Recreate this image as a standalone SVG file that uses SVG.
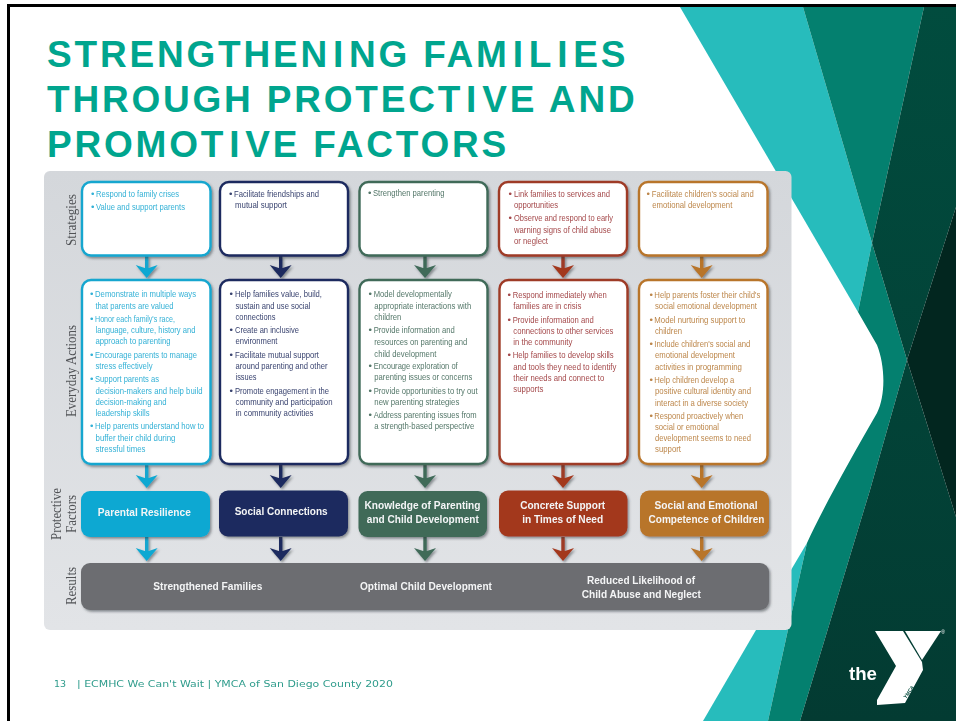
<svg xmlns="http://www.w3.org/2000/svg" width="956" height="721" viewBox="0 0 956 721">
<style>
text{font-family:"Liberation Sans",Arial,sans-serif}
.title{font-weight:700;font-size:37px;fill:#00a58e;letter-spacing:2.8px}
.foot{font-family:"DejaVu Sans",sans-serif;font-size:9.5px;fill:#2f9c8c}
.t{font-size:9.8px}
.hd{font-weight:700;font-size:11.8px;fill:#f4f5f6;text-anchor:middle}
.row{font-family:"Liberation Serif",serif;font-size:14.5px;fill:#515357;text-anchor:middle}
.box{fill:#fff;stroke-width:2.4}
.c1{fill:#33b1d6}.c2{fill:#3a4470}.c3{fill:#55786a}.c4{fill:#a4484a}.c5{fill:#bd874b}
.s1{stroke:#13a6cf}.s2{stroke:#1c2a5e}.s3{stroke:#3f6a59}.s4{stroke:#9e3a26}.s5{stroke:#b8752b}
.f1{fill:#0ea8d2}.f2{fill:#1c2a5e}.f3{fill:#3f6a59}.f4{fill:#a3391f}.f5{fill:#b8742a}
#connectors line{stroke-width:3.4}
</style>
<defs>
<filter id="sh" x="-10%" y="-10%" width="125%" height="125%"><feGaussianBlur stdDeviation="0.35" result="b"/><feDropShadow in="b" dx="1.5" dy="1.8" stdDeviation="1.2" flood-color="#33383d" flood-opacity="0.5"/></filter>
<filter id="soft" x="-5%" y="-5%" width="110%" height="110%"><feGaussianBlur stdDeviation="0.3"/></filter>
<linearGradient id="pg" x1="0" y1="0" x2="0" y2="1"><stop offset="0" stop-color="#d4d7db"/><stop offset="1" stop-color="#e2e4e7"/></linearGradient>
<linearGradient id="dk" x1="0" y1="0" x2="0" y2="1"><stop offset="0" stop-color="#014c3e"/><stop offset="1" stop-color="#033b32"/></linearGradient>
<marker id="a1" markerUnits="userSpaceOnUse" viewBox="0 -12 14 24" refX="6" refY="0" markerWidth="14" markerHeight="24" orient="auto"><path class="f1" d="M13 0L0 -11L3 -2L3 2L0 11Z"/></marker>
<marker id="a2" markerUnits="userSpaceOnUse" viewBox="0 -12 14 24" refX="6" refY="0" markerWidth="14" markerHeight="24" orient="auto"><path class="f2" d="M13 0L0 -11L3 -2L3 2L0 11Z"/></marker>
<marker id="a3" markerUnits="userSpaceOnUse" viewBox="0 -12 14 24" refX="6" refY="0" markerWidth="14" markerHeight="24" orient="auto"><path class="f3" d="M13 0L0 -11L3 -2L3 2L0 11Z"/></marker>
<marker id="a4" markerUnits="userSpaceOnUse" viewBox="0 -12 14 24" refX="6" refY="0" markerWidth="14" markerHeight="24" orient="auto"><path class="f4" d="M13 0L0 -11L3 -2L3 2L0 11Z"/></marker>
<marker id="a5" markerUnits="userSpaceOnUse" viewBox="0 -12 14 24" refX="6" refY="0" markerWidth="14" markerHeight="24" orient="auto"><path class="f5" d="M13 0L0 -11L3 -2L3 2L0 11Z"/></marker>
</defs>
<rect width="956" height="721" fill="#fff"/>
<g id="background">
<path fill="#27bcbc" d="M680 7H803L872 243L858 312Z"/>
<path fill="#27bcbc" d="M807 543L791 570L703 721H768Z"/>
<path fill="#04806f" d="M803 7H924L872 243Z"/>
<path fill="#04806f" d="M872 243L907 360L870 490L800 721H768L807 543C822 510 850 460 877 413C886 395 885 365 877 345L858 312Z"/>
<path fill="url(#dk)" d="M924 7H956V207L907 360L956 517V721H800L870 490L907 360L872 243Z"/>
<path fill="#02261f" d="M956 207L907 360L956 517Z"/>
</g>
<path id="frame" fill="none" stroke="#000" stroke-width="3" d="M8.500 721V5.500H956"/>
<g id="title">
<text class="title" x="47" y="67">STRENGTHEN<tspan dx="3">I</tspan><tspan dx="3">NG FAM</tspan><tspan dx="3">I</tspan><tspan dx="3">L</tspan><tspan dx="3">I</tspan><tspan dx="3">ES</tspan></text>
<text class="title" x="47" y="112">THROUGH PROTECT<tspan dx="3">I</tspan><tspan dx="3">VE AND</tspan></text>
<text class="title" x="47" y="157">PROMOT<tspan dx="3">I</tspan><tspan dx="3">VE FACTORS</tspan></text>
</g>
<rect id="panel" x="44" y="171" width="747.500" height="459" rx="6" fill="url(#pg)"/>
<g id="row-labels" filter="url(#soft)">
<text class="row" transform="translate(75.500 220) rotate(-90)" textLength="52" lengthAdjust="spacingAndGlyphs">Strategies</text>
<text class="row" transform="translate(75.500 371) rotate(-90)" textLength="92" lengthAdjust="spacingAndGlyphs">Everyday Actions</text>
<text class="row" transform="translate(61 514) rotate(-90)" textLength="52" lengthAdjust="spacingAndGlyphs">Protective</text>
<text class="row" transform="translate(76 514) rotate(-90)" textLength="38" lengthAdjust="spacingAndGlyphs">Factors</text>
<text class="row" transform="translate(75.500 586) rotate(-90)" textLength="38" lengthAdjust="spacingAndGlyphs">Results</text>
</g>
<g id="connectors" filter="url(#sh)">
<line class="s1" x1="146.700" y1="256" x2="146.700" y2="271" marker-end="url(#a1)"/>
<line class="s2" x1="280.700" y1="256" x2="280.700" y2="271" marker-end="url(#a2)"/>
<line class="s3" x1="425" y1="256" x2="425" y2="271" marker-end="url(#a3)"/>
<line class="s4" x1="563" y1="256" x2="563" y2="271" marker-end="url(#a4)"/>
<line class="s5" x1="701.700" y1="256" x2="701.700" y2="271" marker-end="url(#a5)"/>
<line class="s1" x1="146.700" y1="465" x2="146.700" y2="481" marker-end="url(#a1)"/>
<line class="s2" x1="280.700" y1="465" x2="280.700" y2="481" marker-end="url(#a2)"/>
<line class="s3" x1="425" y1="465" x2="425" y2="481" marker-end="url(#a3)"/>
<line class="s4" x1="563" y1="465" x2="563" y2="481" marker-end="url(#a4)"/>
<line class="s5" x1="701.700" y1="465" x2="701.700" y2="481" marker-end="url(#a5)"/>
<line class="s1" x1="146.700" y1="537" x2="146.700" y2="554" marker-end="url(#a1)"/>
<line class="s2" x1="280.700" y1="537" x2="280.700" y2="554" marker-end="url(#a2)"/>
<line class="s3" x1="425" y1="537" x2="425" y2="554" marker-end="url(#a3)"/>
<line class="s4" x1="563" y1="537" x2="563" y2="554" marker-end="url(#a4)"/>
<line class="s5" x1="701.700" y1="537" x2="701.700" y2="554" marker-end="url(#a5)"/>
</g>
<g id="strategy-1" filter="url(#sh)"><rect class="box s1" x="82" y="182" width="128.500" height="73.500" rx="9"/>
<g class="t c1"><text x="91" y="197">•</text><text x="96" y="197" textLength="83" lengthAdjust="spacingAndGlyphs">Respond to family crises</text>
<text x="91" y="210">•</text><text x="96" y="210" textLength="89" lengthAdjust="spacingAndGlyphs">Value and support parents</text></g></g>
<g id="strategy-2" filter="url(#sh)"><rect class="box s2" x="220" y="182" width="128" height="73.500" rx="9"/>
<g class="t c2"><text x="229" y="197">•</text><text x="234" y="197" textLength="85" lengthAdjust="spacingAndGlyphs">Facilitate friendships and</text>
<text x="235" y="208" textLength="52" lengthAdjust="spacingAndGlyphs">mutual support</text></g></g>
<g id="strategy-3" filter="url(#sh)"><rect class="box s3" x="359.500" y="182" width="128" height="73.500" rx="9"/>
<g class="t c3"><text x="368" y="196">•</text><text x="373" y="196" textLength="71.500" lengthAdjust="spacingAndGlyphs">Strengthen parenting</text></g></g>
<g id="strategy-4" filter="url(#sh)"><rect class="box s4" x="499" y="182" width="128" height="73.500" rx="9"/>
<g class="t c4"><text x="508.500" y="196.700">•</text><text x="514" y="196.700" textLength="96" lengthAdjust="spacingAndGlyphs">Link families to services and</text>
<text x="514" y="208" textLength="44" lengthAdjust="spacingAndGlyphs">opportunities</text>
<text x="508.500" y="221.300">•</text><text x="514" y="221.300" textLength="99" lengthAdjust="spacingAndGlyphs">Observe and respond to early</text>
<text x="514" y="232.700" textLength="97" lengthAdjust="spacingAndGlyphs">warning signs of child abuse</text>
<text x="514" y="243.700" textLength="34" lengthAdjust="spacingAndGlyphs">or neglect</text></g></g>
<g id="strategy-5" filter="url(#sh)"><rect class="box s5" x="639" y="182" width="128.500" height="73.500" rx="9"/>
<g class="t c5"><text x="646.500" y="197">•</text><text x="651.700" y="197" textLength="102" lengthAdjust="spacingAndGlyphs">Facilitate children's social and</text>
<text x="652.300" y="208" textLength="80" lengthAdjust="spacingAndGlyphs">emotional development</text></g></g>
<g id="actions-1" filter="url(#sh)"><rect class="box s1" x="82" y="280" width="128.500" height="184" rx="9"/>
<g class="t c1"><text x="90" y="297.300">•</text><text x="95" y="297.300" textLength="101" lengthAdjust="spacingAndGlyphs">Demonstrate in multiple ways</text>
<text x="95.500" y="308.700" textLength="78" lengthAdjust="spacingAndGlyphs">that parents are valued</text>
<text x="90" y="322">•</text><text x="95" y="322" textLength="80" lengthAdjust="spacingAndGlyphs">Honor each family's race,</text>
<text x="95.500" y="333.300" textLength="100" lengthAdjust="spacingAndGlyphs">language, culture, history and</text>
<text x="95.500" y="344.300" textLength="75" lengthAdjust="spacingAndGlyphs">approach to parenting</text>
<text x="90" y="357.700">•</text><text x="95" y="357.700" textLength="102" lengthAdjust="spacingAndGlyphs">Encourage parents to manage</text>
<text x="95.500" y="369" textLength="57" lengthAdjust="spacingAndGlyphs">stress effectively</text>
<text x="90" y="382.300">•</text><text x="95" y="382.300" textLength="64" lengthAdjust="spacingAndGlyphs">Support parents as</text>
<text x="95.500" y="393.700" textLength="107" lengthAdjust="spacingAndGlyphs">decision-makers and help build</text>
<text x="95.500" y="404.700" textLength="71" lengthAdjust="spacingAndGlyphs">decision-making and</text>
<text x="95.500" y="416" textLength="54" lengthAdjust="spacingAndGlyphs">leadership skills</text>
<text x="90" y="429.300">•</text><text x="95" y="429.300" textLength="109" lengthAdjust="spacingAndGlyphs">Help parents understand how to</text>
<text x="95.500" y="440.700" textLength="80" lengthAdjust="spacingAndGlyphs">buffer their child during</text>
<text x="95.500" y="451.700" textLength="50" lengthAdjust="spacingAndGlyphs">stressful times</text></g></g>
<g id="actions-2" filter="url(#sh)"><rect class="box s2" x="220" y="280" width="128" height="184" rx="9"/>
<g class="t c2"><text x="229.500" y="297.300">•</text><text x="235" y="297.300" textLength="87" lengthAdjust="spacingAndGlyphs">Help families value, build,</text>
<text x="235.500" y="308.700" textLength="75" lengthAdjust="spacingAndGlyphs">sustain and use social</text>
<text x="235.500" y="320" textLength="40" lengthAdjust="spacingAndGlyphs">connections</text>
<text x="229.500" y="333.300">•</text><text x="235" y="333.300" textLength="64" lengthAdjust="spacingAndGlyphs">Create an inclusive</text>
<text x="235.500" y="344.300" textLength="42" lengthAdjust="spacingAndGlyphs">environment</text>
<text x="229.500" y="357.700">•</text><text x="235" y="357.700" textLength="84" lengthAdjust="spacingAndGlyphs">Facilitate mutual support</text>
<text x="235.500" y="369" textLength="92" lengthAdjust="spacingAndGlyphs">around parenting and other</text>
<text x="235.500" y="380.300" textLength="21" lengthAdjust="spacingAndGlyphs">issues</text>
<text x="229.500" y="393.700">•</text><text x="235" y="393.700" textLength="94" lengthAdjust="spacingAndGlyphs">Promote engagement in the</text>
<text x="235.500" y="405" textLength="97" lengthAdjust="spacingAndGlyphs">community and participation</text>
<text x="235.500" y="416" textLength="78" lengthAdjust="spacingAndGlyphs">in community activities</text></g></g>
<g id="actions-3" filter="url(#sh)"><rect class="box s3" x="359.500" y="280" width="128" height="184" rx="9"/>
<g class="t c3"><text x="368.500" y="297.300">•</text><text x="373.700" y="297.300" textLength="78" lengthAdjust="spacingAndGlyphs">Model developmentally</text>
<text x="374.300" y="308.700" textLength="97" lengthAdjust="spacingAndGlyphs">appropriate interactions with</text>
<text x="374.300" y="320" textLength="27" lengthAdjust="spacingAndGlyphs">children</text>
<text x="368.500" y="333.300">•</text><text x="373.700" y="333.300" textLength="81" lengthAdjust="spacingAndGlyphs">Provide information and</text>
<text x="374.300" y="345" textLength="93" lengthAdjust="spacingAndGlyphs">resources on parenting and</text>
<text x="374.300" y="356.700" textLength="62" lengthAdjust="spacingAndGlyphs">child development</text>
<text x="368.500" y="369">•</text><text x="373.700" y="369" textLength="84" lengthAdjust="spacingAndGlyphs">Encourage exploration of</text>
<text x="374.300" y="380.300" textLength="98" lengthAdjust="spacingAndGlyphs">parenting issues or concerns</text>
<text x="368.500" y="393.700">•</text><text x="373.700" y="393.700" textLength="104" lengthAdjust="spacingAndGlyphs">Provide opportunities to try out</text>
<text x="374.300" y="405" textLength="85" lengthAdjust="spacingAndGlyphs">new parenting strategies</text>
<text x="368.500" y="418">•</text><text x="373.700" y="418" textLength="103" lengthAdjust="spacingAndGlyphs">Address parenting issues from</text>
<text x="374.300" y="429.300" textLength="100" lengthAdjust="spacingAndGlyphs">a strength-based perspective</text></g></g>
<g id="actions-4" filter="url(#sh)"><rect class="box s4" x="499.500" y="280" width="128" height="184" rx="9"/>
<g class="t c4"><text x="507.500" y="298">•</text><text x="512.700" y="298" textLength="94" lengthAdjust="spacingAndGlyphs">Respond immediately when</text>
<text x="513.300" y="309.300" textLength="68" lengthAdjust="spacingAndGlyphs">families are in crisis</text>
<text x="507.500" y="322.700">•</text><text x="512.700" y="322.700" textLength="81" lengthAdjust="spacingAndGlyphs">Provide information and</text>
<text x="513.300" y="333.700" textLength="100" lengthAdjust="spacingAndGlyphs">connections to other services</text>
<text x="513.300" y="345" textLength="59" lengthAdjust="spacingAndGlyphs">in the community</text>
<text x="507.500" y="358.300">•</text><text x="512.700" y="358.300" textLength="101" lengthAdjust="spacingAndGlyphs">Help families to develop skills</text>
<text x="513.300" y="369.700" textLength="103" lengthAdjust="spacingAndGlyphs">and tools they need to identify</text>
<text x="513.300" y="381" textLength="91" lengthAdjust="spacingAndGlyphs">their needs and connect to</text>
<text x="513.300" y="392" textLength="30" lengthAdjust="spacingAndGlyphs">supports</text></g></g>
<g id="actions-5" filter="url(#sh)"><rect class="box s5" x="639" y="280" width="128.500" height="184" rx="9"/>
<g class="t c5"><text x="649.500" y="298">•</text><text x="654.300" y="298" textLength="106" lengthAdjust="spacingAndGlyphs">Help parents foster their child's</text>
<text x="655" y="309.300" textLength="102" lengthAdjust="spacingAndGlyphs">social emotional development</text>
<text x="649.500" y="322.700">•</text><text x="654.300" y="322.700" textLength="91" lengthAdjust="spacingAndGlyphs">Model nurturing support to</text>
<text x="655" y="334" textLength="27" lengthAdjust="spacingAndGlyphs">children</text>
<text x="649.500" y="347">•</text><text x="654.300" y="347" textLength="96" lengthAdjust="spacingAndGlyphs">Include children's social and</text>
<text x="655" y="358.300" textLength="80" lengthAdjust="spacingAndGlyphs">emotional development</text>
<text x="655" y="369.700" textLength="87" lengthAdjust="spacingAndGlyphs">activities in programming</text>
<text x="649.500" y="383">•</text><text x="654.300" y="383" textLength="80" lengthAdjust="spacingAndGlyphs">Help children develop a</text>
<text x="655" y="394.300" textLength="96" lengthAdjust="spacingAndGlyphs">positive cultural identity and</text>
<text x="655" y="405.700" textLength="93" lengthAdjust="spacingAndGlyphs">interact in a diverse society</text>
<text x="649.500" y="418.700">•</text><text x="654.300" y="418.700" textLength="89" lengthAdjust="spacingAndGlyphs">Respond proactively when</text>
<text x="655" y="430" textLength="64" lengthAdjust="spacingAndGlyphs">social or emotional</text>
<text x="655" y="441.300" textLength="96" lengthAdjust="spacingAndGlyphs">development seems to need</text>
<text x="655" y="452.300" textLength="26" lengthAdjust="spacingAndGlyphs">support</text></g></g>
<g id="factor-1" filter="url(#sh)"><rect class="f1" x="81" y="491" width="129" height="46" rx="9"/><text class="hd" x="144.300" y="516" textLength="93" lengthAdjust="spacingAndGlyphs">Parental Resilience</text></g>
<g id="factor-2" filter="url(#sh)"><rect class="f2" x="219" y="490.500" width="129" height="46" rx="9"/><text class="hd" x="281.200" y="515" textLength="93" lengthAdjust="spacingAndGlyphs">Social Connections</text></g>
<g id="factor-3" filter="url(#sh)"><rect class="f3" x="358.500" y="491" width="128.500" height="46" rx="9"/><text class="hd" x="422.500" y="509" textLength="116" lengthAdjust="spacingAndGlyphs">Knowledge of Parenting</text><text class="hd" x="422.800" y="523" textLength="112" lengthAdjust="spacingAndGlyphs">and Child Development</text></g>
<g id="factor-4" filter="url(#sh)"><rect class="f4" x="499" y="490.500" width="128.500" height="46" rx="9"/><text class="hd" x="562.700" y="509" textLength="85" lengthAdjust="spacingAndGlyphs">Concrete Support</text><text class="hd" x="562.700" y="523" textLength="81" lengthAdjust="spacingAndGlyphs">in Times of Need</text></g>
<g id="factor-5" filter="url(#sh)"><rect class="f5" x="640" y="490.500" width="129" height="46" rx="9"/><text class="hd" x="706" y="509" textLength="103" lengthAdjust="spacingAndGlyphs">Social and Emotional</text><text class="hd" x="706.500" y="523" textLength="116" lengthAdjust="spacingAndGlyphs">Competence of Children</text></g>
<g id="results" filter="url(#sh)"><rect x="81" y="563" width="688" height="47" rx="9" fill="#6c6d71"/>
<text class="hd" x="207.800" y="589.500" textLength="109" lengthAdjust="spacingAndGlyphs">Strengthened Families</text>
<text class="hd" x="426" y="589.500" textLength="132" lengthAdjust="spacingAndGlyphs">Optimal Child Development</text>
<text class="hd" x="641" y="584" textLength="108" lengthAdjust="spacingAndGlyphs">Reduced Likelihood of</text>
<text class="hd" x="641.300" y="598" textLength="119" lengthAdjust="spacingAndGlyphs">Child Abuse and Neglect</text></g>
<g id="footer" filter="url(#soft)">
<text class="foot" x="54" y="686.500">13</text>
<text class="foot" x="77" y="686.500" textLength="316" lengthAdjust="spacingAndGlyphs">| ECMHC We Can't Wait | YMCA of San Diego County 2020</text>
</g>
<g id="logo" filter="url(#soft)" fill="#fff">
<path d="M875 631L903 631L922 662L923 670L905 703L877 705L877 700L896 666Z"/>
<path d="M905 631L941 631L922 660Z"/>
<text x="849" y="680" font-size="18.500" font-weight="700" fill="#fff" textLength="28" lengthAdjust="spacingAndGlyphs">the</text>
<text x="943" y="634" font-size="5" fill="#fff" text-anchor="middle">®</text>
<text transform="translate(906 699) rotate(-55)" font-size="5" font-weight="700" fill="#044a3c">YMCA</text>
</g>
</svg>
